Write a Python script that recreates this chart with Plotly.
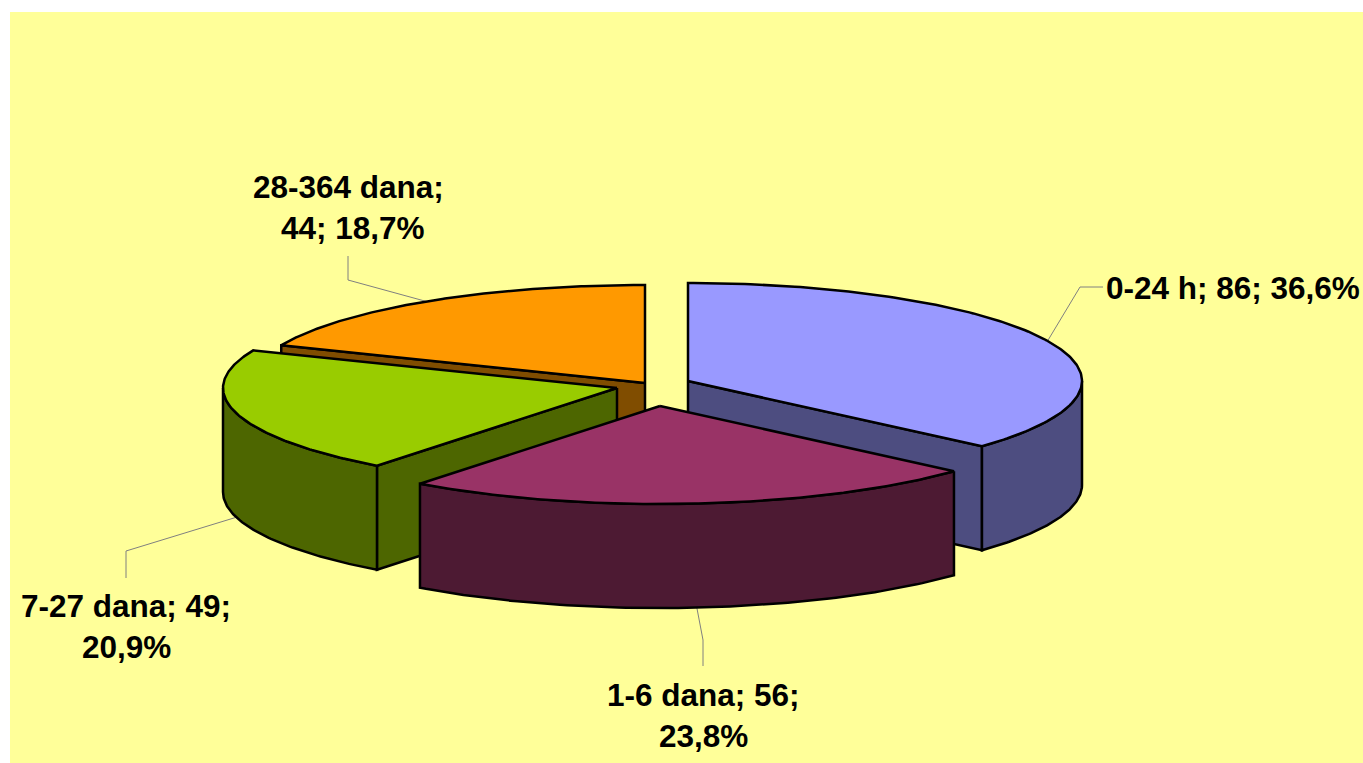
import numpy as np
import plotly.graph_objects as go

categories = ["0-24 h", "1-6 dana", "7-27 dana", "28-364 dana"]
values = [86, 56, 49, 44]
percent_labels = ["36,6%", "23,8%", "20,9%", "18,7%"]
top_colors = ["#9999FF", "#993366", "#99CC00", "#FF9900"]
side_colors = ["#4D4D80", "#4D1A33", "#4D6600", "#804D00"]

W, H = 1363, 763
LEFT, TOP = 10, 12
RX, RY, DEPTH = 394, 98, 104
centers = [(688, 381), (660, 406), (617, 388), (645, 383)]
# elbow and end of each leader line
leaders = [[(1080, 287), (1103, 287)], [(703, 640), (703, 666)],
           [(126, 551), (126, 578)], [(348, 280), (348, 256)]]
label_pos = [(1233, 288), (703, 695), (703, 736), (126, 606), (126, 647), (348, 187), (353, 228)]
label_text = ["{}; {}; {}".format(categories[0], values[0], percent_labels[0]),
              "{}; {};".format(categories[1], values[1]), percent_labels[1],
              "{}; {};".format(categories[2], values[2]), percent_labels[2],
              "{};".format(categories[3]), "{}; {}".format(values[3], percent_labels[3])]

total = sum(values)
edges = np.concatenate([[0], np.cumsum(values)]) / total * 360.0


def pt(c, a):
    r = np.radians(a)
    return c[0] + RX * np.sin(r), c[1] - RY * np.cos(r)


fig = go.Figure()


def poly(xs, ys, fill):
    fig.add_trace(go.Scatter(x=list(xs), y=list(ys), mode="lines", fill="toself",
                             fillcolor=fill, line=dict(color="black", width=2.5),
                             hoverinfo="skip", showlegend=False))


def flat_wall(i, a):
    c = centers[i]
    x, y = pt(c, a)
    poly([c[0], x, x, c[0], c[0]], [c[1], y, y + DEPTH, c[1] + DEPTH, c[1]], side_colors[i])


def outer_wall(i, a0, a1):
    arc = np.linspace(a0, a1, 80)
    x, y = pt(centers[i], arc)
    poly(np.r_[x, x[::-1], x[0]], np.r_[y, y[::-1] + DEPTH, y[0]], side_colors[i])


def top_face(i):
    c = centers[i]
    arc = np.linspace(edges[i], edges[i + 1], 160)
    x, y = pt(c, arc)
    poly(np.r_[c[0], x, c[0]], np.r_[c[1], y, c[1]], top_colors[i])


def leader(i, drop):
    x, y = pt(centers[i], (edges[i] + edges[i + 1]) / 2)
    pts = leaders[i]
    fig.add_trace(go.Scatter(x=[x, pts[0][0], pts[1][0]], y=[y + drop, pts[0][1], pts[1][1]],
                             mode="lines", line=dict(color="#808080", width=1),
                             hoverinfo="skip", showlegend=False))


# back to front
leader(3, 0)
flat_wall(3, edges[3])
top_face(3)

leader(0, 0)
flat_wall(0, edges[1])
outer_wall(0, 90, edges[1])
top_face(0)

leader(2, DEPTH)
flat_wall(2, edges[2])
outer_wall(2, edges[2], 270)
top_face(2)

leader(1, DEPTH)
outer_wall(1, edges[1], edges[2])
top_face(1)

for (x, y), t in zip(label_pos, label_text):
    fig.add_annotation(x=x, y=y, text="<b>" + t + "</b>", showarrow=False, xanchor="center",
                       yanchor="middle", align="center",
                       font=dict(family="Liberation Sans", size=31.5, color="black"))

fig.update_layout(width=W, height=H, margin=dict(l=0, r=0, t=0, b=0), autosize=False,
                  paper_bgcolor="white", plot_bgcolor="#FFFF99",
                  xaxis=dict(domain=[LEFT / W, 1], range=[LEFT, W], visible=False, fixedrange=True),
                  yaxis=dict(domain=[0, 1 - TOP / H], range=[H, TOP], visible=False, fixedrange=True))
fig.write_html("out.html", config=dict(displayModeBar=False),
               post_script="document.body.style.margin='0';document.body.style.overflow='hidden';")
